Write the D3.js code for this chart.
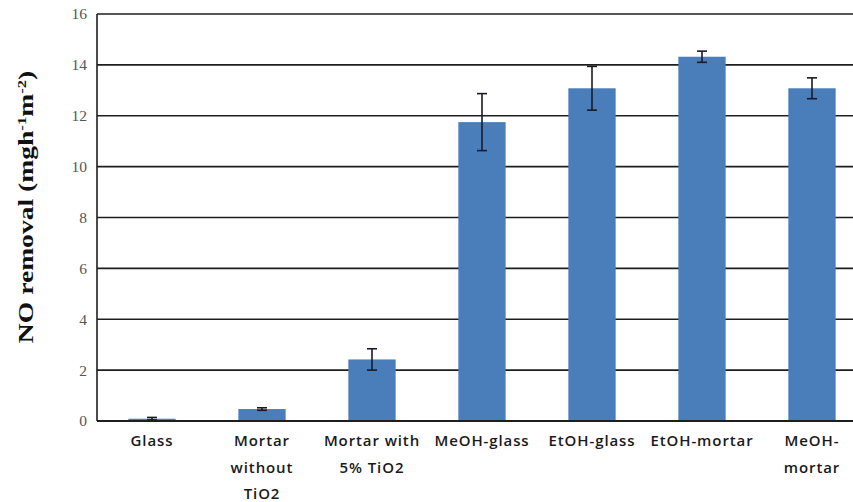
<!DOCTYPE html>
<html>
<head>
<meta charset="utf-8">
<script src="https://cdn.jsdelivr.net/npm/d3@7"></script>
<style>
  html, body { margin: 0; padding: 0; background: #fff; }
  svg { display: block; }
</style>
</head>
<body>
<svg id="chart" width="853" height="502"></svg>
<script>
// NO removal per coating / substrate
const categories = [
  ["Glass"],
  ["Mortar", "without", "TiO2"],
  ["Mortar with", "5% TiO2"],
  ["MeOH-glass"],
  ["EtOH-glass"],
  ["EtOH-mortar"],
  ["MeOH-", "mortar"]
];
const values = [0.09, 0.47, 2.42, 11.75, 13.08, 14.32, 13.08];
const errors = [0.05, 0.05, 0.42, 1.12, 0.86, 0.22, 0.41];
const yTicks = [0, 2, 4, 6, 8, 10, 12, 14, 16];

const svg = d3.select("#chart");
const plotLeft = 97, plotRight = 867, plotTop = 14, plotBottom = 421;

const x = d3.scaleBand()
  .domain(d3.range(categories.length))
  .range([plotLeft, plotRight])
  .paddingInner(0.57)
  .paddingOuter(0.285);

const y = d3.scaleLinear().domain([0, 16]).range([plotBottom, plotTop]);

// horizontal grid lines
svg.append("g")
  .selectAll("line")
  .data(yTicks)
  .join("line")
  .attr("x1", plotLeft).attr("x2", 853)
  .attr("y1", d => y(d)).attr("y2", d => y(d))
  .attr("stroke", "#1e1e1e")
  .attr("stroke-width", 1.6);

// y axis line
svg.append("line")
  .attr("x1", plotLeft).attr("x2", plotLeft)
  .attr("y1", y(16)).attr("y2", y(0))
  .attr("stroke", "#1e1e1e")
  .attr("stroke-width", 1.6);

// y tick labels
const yAxis = d3.axisLeft(y).tickValues(yTicks).tickSize(0).tickPadding(10);
const gy = svg.append("g").attr("transform", `translate(${plotLeft},0)`).call(yAxis);
gy.select(".domain").remove();
gy.selectAll("text")
  .attr("font-family", "'Liberation Serif', 'DejaVu Serif', serif")
  .attr("font-size", 15.5)
  .attr("fill", "#555");

// bars
svg.append("g")
  .selectAll("rect")
  .data(values)
  .join("rect")
  .attr("x", (d, i) => x(i))
  .attr("width", x.bandwidth())
  .attr("y", d => y(d))
  .attr("height", d => y(0) - y(d))
  .attr("fill", "#4a7ebb");

// zero baseline over bars
svg.append("line")
  .attr("x1", plotLeft).attr("x2", 853)
  .attr("y1", y(0)).attr("y2", y(0))
  .attr("stroke", "#1e1e1e")
  .attr("stroke-width", 1.8);

// error bars
const eb = svg.append("g").attr("stroke", "#1a1a2a").attr("stroke-width", 1.6);
values.forEach((v, i) => {
  const cx = x(i) + x.bandwidth() / 2;
  const e = errors[i];
  eb.append("line").attr("x1", cx).attr("x2", cx).attr("y1", y(v + e)).attr("y2", y(v - e));
  eb.append("line").attr("x1", cx - 5).attr("x2", cx + 5).attr("y1", y(v + e)).attr("y2", y(v + e));
  eb.append("line").attr("x1", cx - 5).attr("x2", cx + 5).attr("y1", y(v - e)).attr("y2", y(v - e));
});

// category labels
const gx = svg.append("g");
categories.forEach((lines, i) => {
  const cx = x(i) + x.bandwidth() / 2;
  const t = gx.append("text")
    .attr("text-anchor", "middle")
    .attr("font-family", "'Open Sans', Lato, sans-serif")
    .attr("font-size", 15)
    .attr("font-weight", 600)
    .attr("letter-spacing", 0.9)
    .attr("fill", "#1a1a1a");
  lines.forEach((s, k) => {
    t.append("tspan").attr("x", cx).attr("y", 446 + k * 26.5).text(s);
  });
});

// y axis title (stretched along its baseline)
const title = svg.append("text")
  .attr("transform", "translate(33,207) rotate(-90) scale(1.38,1)")
  .attr("text-anchor", "middle")
  .attr("font-family", "'Liberation Serif', 'DejaVu Serif', serif")
  .attr("font-weight", "bold")
  .attr("font-size", 20)
  .attr("fill", "#111");
title.append("tspan").text("NO removal (mgh");
title.append("tspan").attr("dy", -7).attr("font-size", 12).text("-1");
title.append("tspan").attr("dy", 7).text("m");
title.append("tspan").attr("dy", -7).attr("font-size", 12).text("-2");
title.append("tspan").attr("dy", 7).text(")");
</script>
</body>
</html>
